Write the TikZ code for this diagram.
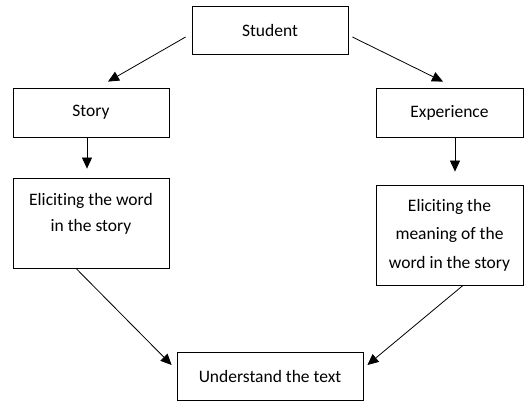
\documentclass[tikz,border=0pt]{standalone}
\usepackage{fontspec}
\setmainfont[Ligatures=NoCommon]{Carlito}
\usetikzlibrary{arrows.meta}
\begin{document}
\begin{tikzpicture}[
       x=1pt, y=-1pt,
       line width=0.8pt,
       boite/.style={
         draw,
         rectangle,
         inner sep=0pt,
         align=center,
         font=\fontsize{17.5pt}{27pt}\selectfont
       },
       fleche/.style={
         -{Triangle[length=11pt,width=10pt]}
       }
     ]

       \useasboundingbox (0,0) rectangle (530,403);

       \node (student) at (270,30) [boite, minimum width=156pt, minimum height=48pt]{Student};

       \node (story) at (91,112.5) [boite, minimum width=156pt, minimum height=49pt]{Story};
       \node (experience) at (449.5,112.5) [boite, minimum width=147pt, minimum height=49pt]{Experience};

       \node (eliciting1) at (91,223) [boite, minimum width=156pt, minimum height=90pt,
         font=\fontsize{17.5pt}{26pt}\selectfont]{Eliciting the word\\in the story\\[-4pt]\mbox{}};
       \node (eliciting2) at (449.5,235) [boite, minimum width=147pt, minimum height=100pt,
         font=\fontsize{17.5pt}{28.5pt}\selectfont]{Eliciting the\\meaning of the\\word in the story};

       \node (understand) at (270,376) [boite, minimum width=186pt, minimum height=48pt]{Understand the text};

       \draw[fleche] ([xshift=-6pt,yshift=-7pt]student.west) -- ([xshift=17pt,yshift=6pt]story.north);
       \draw[fleche] ([xshift=4pt,yshift=-7pt]student.east) -- ([xshift=-6.5pt,yshift=6pt]experience.north);

       \draw[fleche] ([xshift=-4pt]story.south) -- ([xshift=-4pt,yshift=9pt]eliciting1.north);
       \draw[fleche] ([xshift=5.5pt]experience.south) -- ([xshift=5.5pt,yshift=13pt]eliciting2.north);

       \draw[fleche] ([xshift=-15pt]eliciting1.south) -- ([xshift=-5pt,yshift=11pt]understand.west);
       \draw[fleche] ([xshift=13.5pt]eliciting2.south) -- ([xshift=4pt,yshift=11pt]understand.east);

\end{tikzpicture}
\end{document}
